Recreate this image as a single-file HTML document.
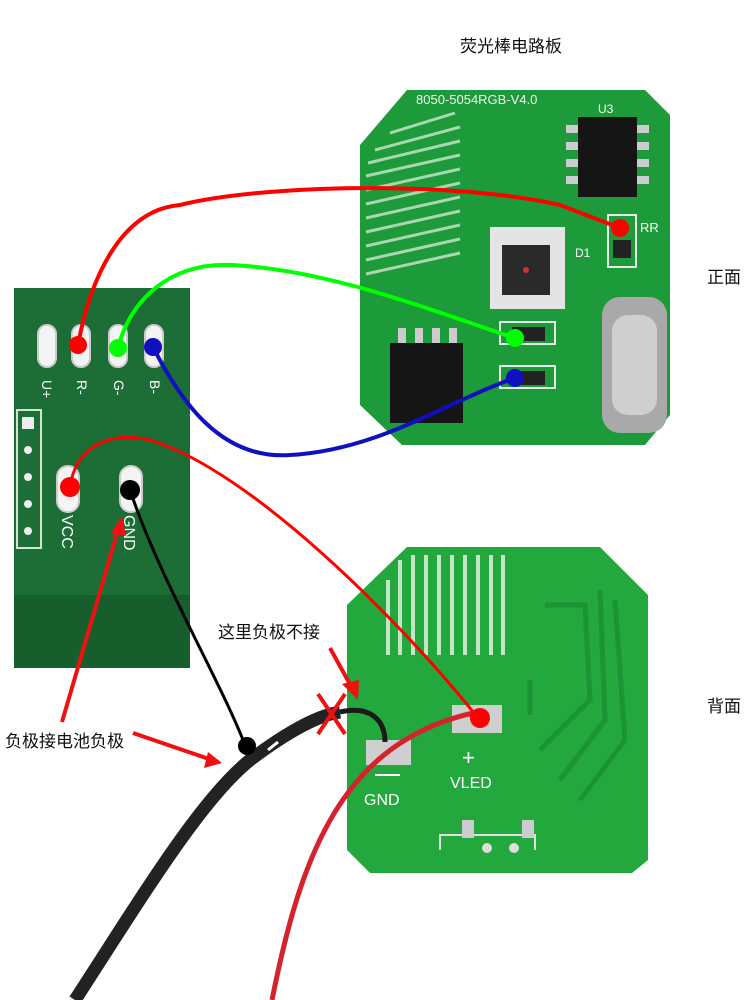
<!DOCTYPE html>
<html><head><meta charset="utf-8"><style>
html,body{margin:0;padding:0;background:#fff;}
svg{display:block;}
text{font-family:"Liberation Sans","Noto Sans CJK SC",sans-serif;}
</style></head><body>
<svg width="750" height="1000" viewBox="0 0 750 1000" xmlns="http://www.w3.org/2000/svg">
<rect width="750" height="1000" fill="#fff"/>
<text x="460" y="52" font-size="17" fill="#111">荧光棒电路板</text>
<text x="707" y="283" font-size="17" fill="#111">正面</text>
<text x="707" y="712" font-size="17" fill="#111">背面</text>

<!-- top right PCB -->
<path d="M407,90 L645,90 L670,115 L670,415 L645,445 L402,445 L360,405 L360,145 Z" fill="#1d9a3a"/>
<g stroke="#a9d8b0" stroke-width="3">
<line x1="390" y1="133" x2="455" y2="113"/><line x1="375" y1="150" x2="460" y2="127"/>
<line x1="368" y1="163" x2="460" y2="141"/><line x1="366" y1="176" x2="460" y2="155"/>
<line x1="366" y1="190" x2="460" y2="169"/><line x1="366" y1="204" x2="460" y2="183"/>
<line x1="366" y1="218" x2="460" y2="197"/><line x1="366" y1="232" x2="460" y2="211"/>
<line x1="366" y1="246" x2="460" y2="225"/><line x1="366" y1="260" x2="460" y2="239"/>
<line x1="366" y1="274" x2="460" y2="253"/>
</g>
<text x="416" y="104" font-size="13" fill="#f0f8f0" font-family="Liberation Serif">8050-5054RGB-V4.0</text>
<text x="598" y="113" font-size="12" fill="#fff" font-family="Liberation Serif">U3</text>
<text x="640" y="232" font-size="13" fill="#fff" font-family="Liberation Serif">RR</text>
<text x="575" y="257" font-size="12" fill="#fff" font-family="Liberation Serif">D1</text>
<rect x="578" y="117" width="59" height="80" fill="#151515"/>
<g fill="#ccc"><rect x="566" y="125" width="12" height="8"/><rect x="566" y="142" width="12" height="8"/><rect x="566" y="159" width="12" height="8"/><rect x="566" y="176" width="12" height="8"/>
<rect x="637" y="125" width="12" height="8"/><rect x="637" y="142" width="12" height="8"/><rect x="637" y="159" width="12" height="8"/><rect x="637" y="176" width="12" height="8"/></g>
<rect x="490" y="227" width="75" height="82" fill="#e4e4e4"/>
<rect x="502" y="245" width="48" height="50" fill="#2a2a2a"/>
<circle cx="526" cy="270" r="3" fill="#c33"/>
<rect x="390" y="343" width="73" height="80" fill="#151515"/>
<g fill="#ccc"><rect x="398" y="328" width="8" height="15"/><rect x="415" y="328" width="8" height="15"/><rect x="432" y="328" width="8" height="15"/><rect x="449" y="328" width="8" height="15"/></g>
<rect x="602" y="297" width="65" height="136" rx="18" fill="#a9a9a9"/>
<rect x="612" y="315" width="45" height="100" rx="16" fill="#cfcfcf"/>
<rect x="500" y="322" width="55" height="22" fill="none" stroke="#e8e8e8" stroke-width="2"/>
<rect x="512" y="327" width="33" height="14" fill="#222"/>
<rect x="500" y="366" width="55" height="22" fill="none" stroke="#e8e8e8" stroke-width="2"/>
<rect x="512" y="371" width="33" height="14" fill="#222"/>
<rect x="608" y="215" width="28" height="52" fill="none" stroke="#e8e8e8" stroke-width="2"/>
<rect x="613" y="240" width="18" height="18" fill="#222"/>

<!-- left PCB -->
<rect x="14" y="288" width="176" height="380" fill="#1c6e36"/>
<rect x="14" y="595" width="176" height="73" fill="#165e2c"/>
<g fill="#f4f4f4" stroke="#ccc" stroke-width="2">
<rect x="38" y="325" width="18" height="42" rx="9"/><rect x="72" y="325" width="18" height="42" rx="9"/>
<rect x="109" y="325" width="18" height="42" rx="9"/><rect x="145" y="325" width="18" height="42" rx="9"/>
<rect x="57" y="466" width="22" height="46" rx="11"/><rect x="120" y="466" width="22" height="46" rx="11"/>
</g>
<rect x="17" y="410" width="24" height="138" fill="none" stroke="#cfe5d0" stroke-width="2"/>
<rect x="22" y="417" width="12" height="12" fill="#eee"/>
<g fill="#eee"><circle cx="28" cy="450" r="4"/><circle cx="28" cy="477" r="4"/><circle cx="28" cy="504" r="4"/><circle cx="28" cy="531" r="4"/></g>
<text x="42" y="380" font-size="14" fill="#fff" transform="rotate(90 42 380)">U+</text>
<text x="77" y="380" font-size="14" fill="#fff" transform="rotate(90 77 380)">R-</text>
<text x="114" y="380" font-size="14" fill="#fff" transform="rotate(90 114 380)">G-</text>
<text x="150" y="380" font-size="14" fill="#fff" transform="rotate(90 150 380)">B-</text>
<text x="62" y="515" font-size="16" fill="#fff" transform="rotate(90 62 515)">VCC</text>
<text x="124" y="515" font-size="16" fill="#fff" transform="rotate(90 124 515)">GND</text>

<!-- bottom PCB -->
<path d="M407,547 L600,547 L648,595 L648,860 L632,873 L370,873 L347,850 L347,605 Z" fill="#22a83c"/>
<g stroke="#c2e6c6" stroke-width="4">
<line x1="388" y1="580" x2="388" y2="655"/><line x1="400" y1="560" x2="400" y2="655"/>
<line x1="413" y1="555" x2="413" y2="655"/><line x1="426" y1="555" x2="426" y2="655"/>
<line x1="439" y1="555" x2="439" y2="655"/><line x1="452" y1="555" x2="452" y2="655"/>
<line x1="465" y1="555" x2="465" y2="655"/><line x1="478" y1="555" x2="478" y2="655"/>
<line x1="491" y1="555" x2="491" y2="655"/><line x1="503" y1="555" x2="503" y2="655"/>
</g>
<g stroke="#1c9434" stroke-width="5" fill="none">
<path d="M545,605 L585,605 L590,700 L540,750"/><path d="M600,590 L605,720 L560,780"/>
<path d="M615,600 L625,740 L580,800"/><path d="M530,680 L530,715"/>
</g>
<rect x="452" y="705" width="50" height="28" fill="#cfcfcf"/>
<rect x="366" y="740" width="45" height="25" fill="#cfcfcf"/>
<line x1="375" y1="775" x2="400" y2="775" stroke="#fff" stroke-width="2"/>
<text x="364" y="805" font-size="16" fill="#fff" font-family="Liberation Serif">GND</text>
<text x="450" y="788" font-size="16" fill="#fff" font-family="Liberation Serif">VLED</text>
<text x="462" y="765" font-size="22" fill="#fff">+</text>
<path d="M440,850 L440,835 L535,835 L535,850" fill="none" stroke="#e0e0e0" stroke-width="2"/>
<rect x="462" y="820" width="12" height="18" fill="#ccc"/><rect x="522" y="820" width="12" height="18" fill="#ccc"/>
<g fill="#ddd"><circle cx="487" cy="848" r="5"/><circle cx="514" cy="848" r="5"/></g>

<!-- cables -->
<path d="M75,1000 C140,900 200,800 250,760 C290,730 320,715 340,712" stroke="#222" stroke-width="13" fill="none"/>
<path d="M340,712 C370,705 385,720 385,742" stroke="#1a1a1a" stroke-width="5" fill="none"/>
<path d="M272,1000 C300,860 340,740 478,712" stroke="#d3242e" stroke-width="5" fill="none"/>
<line x1="268" y1="750" x2="278" y2="742" stroke="#fff" stroke-width="3"/>

<!-- wires -->
<path d="M78,345 C90,280 120,210 180,205 C260,185 450,180 560,205 L620,228" stroke="#f00" stroke-width="4" fill="none"/>
<path d="M118,348 C130,300 170,262 232,265 C330,270 430,310 515,338" stroke="#0f0" stroke-width="4" fill="none"/>
<path d="M153,347 C180,400 220,460 290,455 C380,450 450,400 515,378" stroke="#1010c0" stroke-width="4" fill="none"/>
<path d="M70,487 C75,450 105,430 150,440 C250,470 400,620 478,718" stroke="#f00" stroke-width="3" fill="none"/>
<path d="M130,490 C160,580 220,680 245,745" stroke="#000" stroke-width="3" fill="none"/>
<g><circle cx="78" cy="345" r="9" fill="#f00"/><circle cx="118" cy="348" r="9" fill="#0f0"/>
<circle cx="153" cy="347" r="9" fill="#1010c0"/><circle cx="620" cy="228" r="9" fill="#f00"/>
<circle cx="515" cy="338" r="9" fill="#0f0"/><circle cx="515" cy="378" r="9" fill="#1010c0"/>
<circle cx="70" cy="487" r="10" fill="#f00"/><circle cx="130" cy="490" r="10" fill="#000"/>
<circle cx="480" cy="718" r="10" fill="#f00"/><circle cx="247" cy="746" r="9" fill="#000"/></g>

<!-- annotations -->
<text x="218" y="638" font-size="17" fill="#111">这里负极不接</text>
<text x="5" y="747" font-size="17" fill="#111">负极接电池负极</text>
<g stroke="#f01010" stroke-width="4" fill="none">
<line x1="330" y1="648" x2="352" y2="688"/>
<line x1="133" y1="733" x2="212" y2="760"/>
<line x1="62" y1="722" x2="118" y2="530"/>
<line x1="318" y1="694" x2="345" y2="734"/><line x1="345" y1="694" x2="318" y2="734"/>
</g>
<g fill="#f01010">
<polygon points="358,700 342,684 359,680"/>
<polygon points="222,763 204,768 208,752"/>
<polygon points="122,516 126,536 111,533"/>
</g>
</svg>
</body></html>
